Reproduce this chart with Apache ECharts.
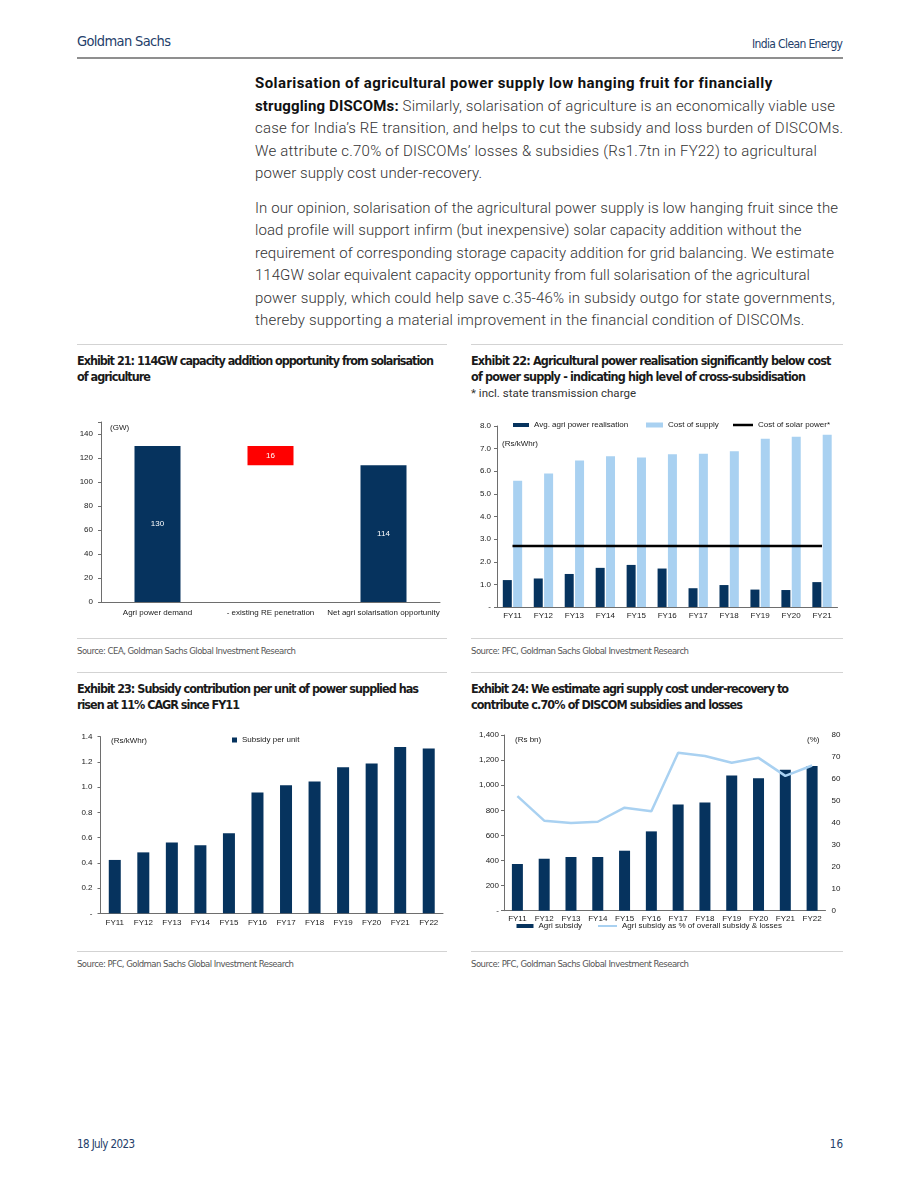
<!DOCTYPE html>
<html><head><meta charset="utf-8">
<script src="https://cdn.jsdelivr.net/npm/echarts@6/dist/echarts.min.js"></script>
<style>
html,body{margin:0;padding:0;background:#fff;}
#page{position:relative;width:920px;height:1191px;overflow:hidden;background:#fff;}
.t{position:absolute;white-space:nowrap;}
.body{font-family:Roboto,"Liberation Sans",sans-serif;font-weight:300;font-size:15px;line-height:20px;color:#333;}
.b{font-weight:700;color:#111;}
.title{font-family:"Liberation Sans Narrow","Arial Narrow","DejaVu Sans Condensed",sans-serif;font-weight:700;font-size:12.5px;line-height:16px;color:#1a1a1a;}
.sub{font-family:Roboto,"Liberation Sans",sans-serif;font-weight:400;font-size:11.5px;line-height:16px;color:#333;}
.src{font-family:"Liberation Sans Narrow","Arial Narrow","DejaVu Sans Condensed",sans-serif;font-size:9.5px;line-height:12px;color:#555;}
.hdr{font-family:"Liberation Sans Narrow","Arial Narrow","DejaVu Sans Condensed",sans-serif;color:#24406a;}
.unit{font-family:"Liberation Sans",Arial,sans-serif;font-size:8px;line-height:10px;color:#1a1a1a;z-index:5;}
.rule{position:absolute;height:1px;background:#d3d3d3;}
.chart{position:absolute;}
</style></head>
<body>
<div id="page">
  <!-- header -->
  <div class="t hdr" style="left:77px;top:32px;font-size:14.5px;line-height:18px;" data-w="94">Goldman Sachs</div>
  <div class="t hdr" style="left:752px;top:36px;font-size:12px;line-height:16px;" data-w="91">India Clean Energy</div>
  <div class="rule" style="left:77px;top:57px;width:766px;height:1.5px;background:#8f8f8f;"></div>

  <!-- body text -->
  <div class="t body b" style="left:255px;top:73px;" data-w="517">Solarisation of agricultural power supply low hanging fruit for financially</div>
  <div class="t body" style="left:255px;top:95.5px;" data-w="580"><span class="b">struggling DISCOMs:</span> Similarly, solarisation of agriculture is an economically viable use</div>
  <div class="t body" style="left:255px;top:118px;" data-w="588">case for India’s RE transition, and helps to cut the subsidy and loss burden of DISCOMs.</div>
  <div class="t body" style="left:255px;top:140.5px;" data-w="562">We attribute c.70% of DISCOMs’ losses &amp; subsidies (Rs1.7tn in FY22) to agricultural</div>
  <div class="t body" style="left:255px;top:163px;" data-w="227">power supply cost under-recovery.</div>

  <div class="t body" style="left:255px;top:197.5px;" data-w="583">In our opinion, solarisation of the agricultural power supply is low hanging fruit since the</div>
  <div class="t body" style="left:255px;top:220px;" data-w="546">load profile will support infirm (but inexpensive) solar capacity addition without the</div>
  <div class="t body" style="left:255px;top:242.5px;" data-w="579">requirement of corresponding storage capacity addition for grid balancing. We estimate</div>
  <div class="t body" style="left:255px;top:265px;" data-w="555">114GW solar equivalent capacity opportunity from full solarisation of the agricultural</div>
  <div class="t body" style="left:255px;top:287.5px;" data-w="580">power supply, which could help save c.35-46% in subsidy outgo for state governments,</div>
  <div class="t body" style="left:255px;top:310px;" data-w="549">thereby supporting a material improvement in the financial condition of DISCOMs.</div>

  <!-- Exhibit 21 -->
  <div class="rule" style="left:77px;top:344px;width:370px;"></div>
  <div class="t title" style="left:77px;top:352.5px;" data-w="357">Exhibit 21: 114GW capacity addition opportunity from solarisation</div>
  <div class="t title" style="left:77px;top:368.5px;" data-w="74">of agriculture</div>
  <div id="c21" class="chart" style="left:70px;top:400px;width:380px;height:230px;"></div>
  <div class="t unit" style="left:110px;top:423px;">(GW)</div>
  <div class="rule" style="left:77px;top:638px;width:370px;"></div>
  <div class="t src" style="left:77px;top:645px;" data-w="219">Source: CEA, Goldman Sachs Global Investment Research</div>

  <!-- Exhibit 22 -->
  <div class="rule" style="left:471px;top:344px;width:372px;"></div>
  <div class="t title" style="left:471px;top:352.5px;" data-w="360">Exhibit 22: Agricultural power realisation significantly below cost</div>
  <div class="t title" style="left:471px;top:368.5px;" data-w="335">of power supply - indicating high level of cross-subsidisation</div>
  <div class="t sub" style="left:471px;top:384.5px;" data-w="165">* incl. state transmission charge</div>
  <div id="c22" class="chart" style="left:465px;top:405px;width:385px;height:225px;"></div>
  <div class="t unit" style="left:502px;top:439px;">(Rs/kWhr)</div>
  <div class="rule" style="left:471px;top:638px;width:372px;"></div>
  <div class="t src" style="left:471px;top:645px;" data-w="218">Source: PFC, Goldman Sachs Global Investment Research</div>

  <!-- Exhibit 23 -->
  <div class="rule" style="left:77px;top:672px;width:370px;"></div>
  <div class="t title" style="left:77px;top:680.5px;" data-w="342">Exhibit 23: Subsidy contribution per unit of power supplied has</div>
  <div class="t title" style="left:77px;top:697px;" data-w="163">risen at 11% CAGR since FY11</div>
  <div id="c23" class="chart" style="left:70px;top:725px;width:385px;height:215px;"></div>
  <div class="t unit" style="left:111px;top:736px;">(Rs/kWhr)</div>
  <div class="rule" style="left:77px;top:951px;width:370px;"></div>
  <div class="t src" style="left:77px;top:957.5px;" data-w="217">Source: PFC, Goldman Sachs Global Investment Research</div>

  <!-- Exhibit 24 -->
  <div class="rule" style="left:471px;top:672px;width:372px;"></div>
  <div class="t title" style="left:471px;top:680.5px;" data-w="318">Exhibit 24: We estimate agri supply cost under-recovery to</div>
  <div class="t title" style="left:471px;top:697px;" data-w="272">contribute c.70% of DISCOM subsidies and losses</div>
  <div id="c24" class="chart" style="left:465px;top:722px;width:385px;height:215px;"></div>
  <div class="t unit" style="left:515px;top:734.5px;">(Rs bn)</div>
  <div class="t unit" style="left:807px;top:734.5px;">(%)</div>
  <div class="rule" style="left:471px;top:951px;width:372px;"></div>
  <div class="t src" style="left:471px;top:957.5px;" data-w="218">Source: PFC, Goldman Sachs Global Investment Research</div>

  <!-- footer -->
  <div class="t hdr" style="left:77px;top:1137px;font-size:11.5px;line-height:14px;" data-w="58">18 July 2023</div>
  <div class="t hdr" style="right:77px;top:1137px;font-size:11.5px;line-height:14px;">16</div>
</div>

<script>
// ---------------- data ----------------
const ex21Categories = ['Agri power demand', '- existing RE penetration', 'Net agri solarisation opportunity'];
const ex21Values = [130, 16, 114];
const ex21Offset = [0, 114, 0];

const ex22Years = ['FY11','FY12','FY13','FY14','FY15','FY16','FY17','FY18','FY19','FY20','FY21'];
const agriRealisation = [1.19, 1.26, 1.46, 1.73, 1.86, 1.70, 0.83, 0.97, 0.77, 0.75, 1.10];
const costOfSupply = [5.58, 5.90, 6.47, 6.66, 6.61, 6.75, 6.77, 6.88, 7.44, 7.53, 7.61];
const solarPowerCost = [2.7, 2.7, 2.7, 2.7, 2.7, 2.7, 2.7, 2.7, 2.7, 2.7, 2.7];

const fyYears = ['FY11','FY12','FY13','FY14','FY15','FY16','FY17','FY18','FY19','FY20','FY21','FY22'];
const subsidyPerUnit = [0.423, 0.483, 0.562, 0.539, 0.634, 0.958, 1.016, 1.044, 1.157, 1.188, 1.319, 1.306];

const agriSubsidy = [372, 414, 428, 428, 478, 632, 847, 863, 1078, 1056, 1123, 1152];
const agriSubsidyPct = [52.2, 41.0, 39.9, 40.5, 46.9, 45.3, 71.9, 70.4, 67.4, 69.6, 61.4, 66.1];

// ---------------- styles ----------------
const NAVY = '#06335e';
const LIGHT = '#a9d1f1';
const RED = '#ff0000';
const AX = '#6e6e6e';
const TXT = '#1a1a1a';
const FONT = '"Liberation Sans", Arial, sans-serif';

function catAxis(data, margin) {
  return {
    type: 'category', data: data,
    axisLine: {show: true, lineStyle: {color: AX, width: 1}},
    axisTick: {show: false},
    axisLabel: {interval: 0, fontFamily: FONT, fontSize: 8, color: TXT, margin: margin}
  };
}
function valAxis(min, max, interval, margin, formatter) {
  return {
    type: 'value', min: min, max: max, interval: interval,
    splitLine: {show: false},
    axisLine: {show: true, lineStyle: {color: AX, width: 1}},
    axisTick: {show: true, length: 3, lineStyle: {color: AX}},
    axisLabel: {fontFamily: FONT, fontSize: 8, color: TXT, margin: margin, formatter: formatter}
  };
}
const legendText = {fontFamily: FONT, fontSize: 8, color: TXT};
function legend(name, left, top, w, h) {
  return {data: [name], left: left, top: top, padding: 0, icon: 'rect', itemWidth: w, itemHeight: h, itemGap: 0, textStyle: legendText};
}

// ---------------- Exhibit 21 ----------------
echarts.init(document.getElementById('c21')).setOption({
  animation: false,
  grid: {left: 31, top: 22, width: 339, height: 180},
  xAxis: catAxis(ex21Categories, 7),
  yAxis: valAxis(0, 150, 20, 8, v => (v > 140 ? '' : String(v))),
  series: [
    {type: 'bar', stack: 'w', data: ex21Offset, barWidth: 46, itemStyle: {color: 'rgba(0,0,0,0)'}, silent: true},
    {type: 'bar', stack: 'w', barWidth: 46,
     data: ex21Values.map((v, i) => ({value: v, itemStyle: {color: i === 1 ? RED : NAVY}})),
     label: {show: true, position: 'inside', color: '#fff', fontFamily: FONT, fontSize: 8}}
  ]
});

// ---------------- Exhibit 22 ----------------
echarts.init(document.getElementById('c22')).setOption({
  animation: false,
  grid: {left: 32, top: 21, width: 340.5, height: 181},
  legend: [
    legend('Avg. agri power realisation', 48, 16, 16, 4),
    legend('Cost of supply', 181, 16, 17, 5),
    legend('Cost of solar power*', 268, 16, 20, 2.5)
  ],
  xAxis: catAxis(ex22Years, 5),
  yAxis: valAxis(0, 8, 1, 6, v => (v === 0 ? '-' : v.toFixed(1))),
  series: [
    {name: 'Avg. agri power realisation', type: 'bar', data: agriRealisation, barWidth: 9, barGap: '15%', itemStyle: {color: NAVY}},
    {name: 'Cost of supply', type: 'bar', data: costOfSupply, barWidth: 9, barGap: '15%', itemStyle: {color: LIGHT}},
    {name: 'Cost of solar power*', type: 'line', data: solarPowerCost, symbol: 'none', showSymbol: false,
     lineStyle: {color: '#000', width: 2.5}, itemStyle: {color: '#000'}}
  ]
});

// ---------------- Exhibit 23 ----------------
echarts.init(document.getElementById('c23')).setOption({
  animation: false,
  grid: {left: 30.5, top: 11.7, width: 342.5, height: 176.6},
  legend: legend('Subsidy per unit', 162, 11, 5, 5),
  xAxis: catAxis(fyYears, 5),
  yAxis: valAxis(0, 1.4, 0.2, 8, v => (v === 0 ? '-' : v.toFixed(1))),
  series: [
    {name: 'Subsidy per unit', type: 'bar', data: subsidyPerUnit, barWidth: 12, itemStyle: {color: NAVY}}
  ]
});

// ---------------- Exhibit 24 ----------------
const y24Left = valAxis(0, 1400, 200, 5, v => (v === 0 ? '-' : v.toLocaleString('en-US')));
const y24Right = {
  type: 'value', min: 0, max: 80, interval: 10, position: 'right',
  splitLine: {show: false}, axisLine: {show: false}, axisTick: {show: false},
  axisLabel: {fontFamily: FONT, fontSize: 8, color: TXT, margin: 6}
};
echarts.init(document.getElementById('c24')).setOption({
  animation: false,
  grid: {left: 39, top: 13, width: 321.5, height: 175.7},
  legend: [
    legend('Agri subsidy', 51.5, 200, 17, 4),
    legend('Agri subsidy as % of overall subsidy & losses', 133, 200, 19, 2)
  ],
  xAxis: catAxis(fyYears, 4),
  yAxis: [y24Left, y24Right],
  series: [
    {name: 'Agri subsidy', type: 'bar', data: agriSubsidy, barWidth: 11, itemStyle: {color: NAVY}},
    {name: 'Agri subsidy as % of overall subsidy & losses', type: 'line', yAxisIndex: 1, data: agriSubsidyPct,
     symbol: 'none', showSymbol: false, lineStyle: {color: LIGHT, width: 2.5}, itemStyle: {color: LIGHT}}
  ]
});

// ---------------- fit text lines to measured widths ----------------
document.querySelectorAll('[data-w]').forEach(el => {
  const target = +el.dataset.w;
  const w = el.getBoundingClientRect().width;
  const n = el.textContent.length;
  if (n > 1) el.style.letterSpacing = ((target - w) / (n - 1)).toFixed(3) + 'px';
});
</script>
</body></html>
